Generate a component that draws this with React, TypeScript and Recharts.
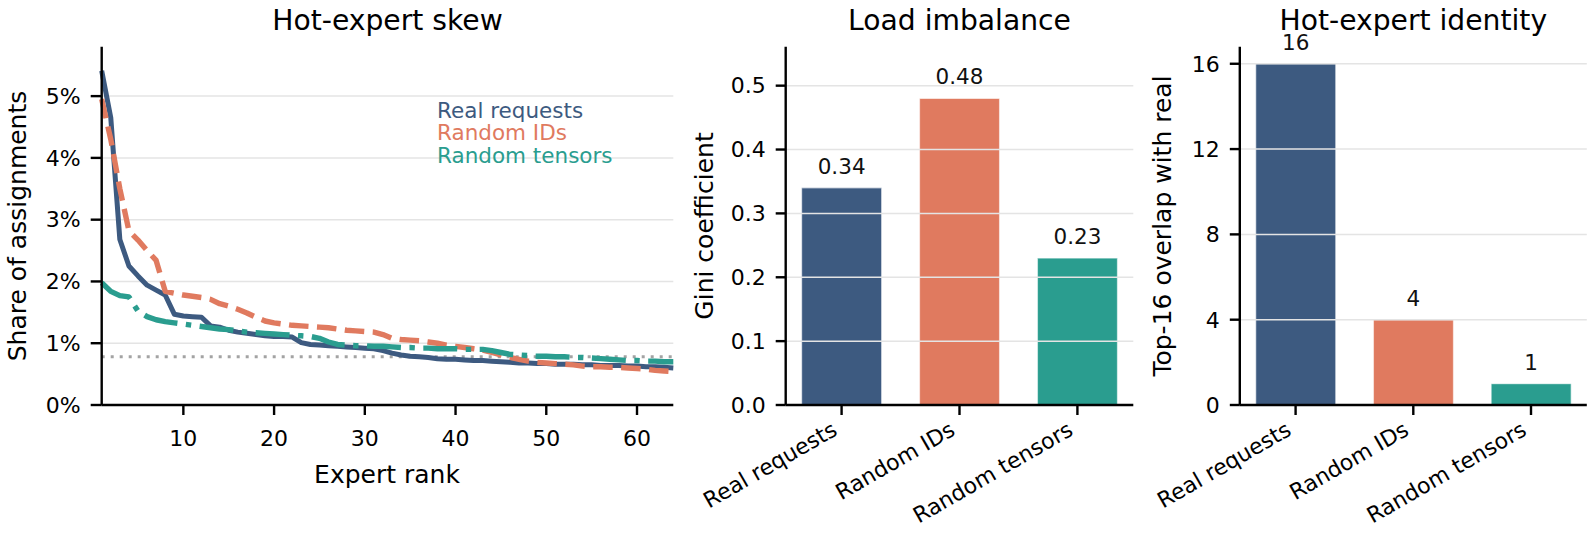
import React from 'react';
import {
  LineChart, Line, BarChart, Bar, Cell, XAxis, YAxis,
  ReferenceLine, LabelList, Legend,
} from 'recharts';

const BLUE = '#3d5a80';
const ORANGE = '#e07a5f';
const TEAL = '#2a9d8f';
const GRID = '#e4e4e4';
const FONT = '"DejaVu Sans", sans-serif';

// share of assignments (%) per expert rank 1..64
const realShare = [
  5.41, 4.65, 2.68, 2.25, 2.09, 1.94, 1.86, 1.78, 1.47, 1.44,
  1.43, 1.42, 1.28, 1.26, 1.21, 1.18, 1.16, 1.14, 1.12, 1.11,
  1.11, 1.10, 1.01, 0.98, 0.97, 0.96, 0.95, 0.94, 0.93, 0.92,
  0.91, 0.88, 0.84, 0.81, 0.79, 0.78, 0.77, 0.75, 0.74, 0.74,
  0.73, 0.72, 0.72, 0.71, 0.70, 0.69, 0.68, 0.68, 0.67, 0.67,
  0.66, 0.66, 0.66, 0.65, 0.65, 0.64, 0.64, 0.64, 0.63, 0.63,
  0.62, 0.62, 0.61, 0.60,
];
const randomIdShare = [
  4.95, 4.30, 3.50, 2.82, 2.67, 2.50, 2.34, 1.84, 1.81, 1.78,
  1.76, 1.74, 1.71, 1.64, 1.60, 1.55, 1.49, 1.42, 1.36, 1.33,
  1.31, 1.29, 1.28, 1.27, 1.26, 1.25, 1.23, 1.21, 1.20, 1.19,
  1.18, 1.14, 1.08, 1.06, 1.05, 1.04, 1.02, 1.00, 0.97, 0.95,
  0.93, 0.91, 0.89, 0.85, 0.81, 0.77, 0.74, 0.71, 0.69, 0.68,
  0.67, 0.66, 0.65, 0.63, 0.62, 0.62, 0.61, 0.61, 0.60, 0.59,
  0.58, 0.56, 0.55, 0.54,
];
const randomTensorShare = [
  1.98, 1.84, 1.77, 1.75, 1.52, 1.43, 1.38, 1.35, 1.33, 1.31,
  1.29, 1.27, 1.25, 1.23, 1.22, 1.20, 1.18, 1.17, 1.16, 1.15,
  1.14, 1.13, 1.12, 1.11, 1.08, 1.02, 0.98, 0.97, 0.96, 0.96,
  0.95, 0.95, 0.94, 0.93, 0.93, 0.92, 0.92, 0.91, 0.91, 0.91,
  0.90, 0.90, 0.90, 0.88, 0.85, 0.82, 0.81, 0.80, 0.79, 0.79,
  0.78, 0.78, 0.77, 0.77, 0.76, 0.75, 0.74, 0.73, 0.72, 0.72,
  0.71, 0.71, 0.70, 0.70,
];
const uniformShare = 0.78;
const shareTicks = [0, 1, 2, 3, 4, 5];
const rankTicks = [10, 20, 30, 40, 50, 60];

const sources = ['Real requests', 'Random IDs', 'Random tensors'];
const sourceColors = [BLUE, ORANGE, TEAL];
const giniValues = [0.34, 0.48, 0.23];
const giniTicks = [0, 0.1, 0.2, 0.3, 0.4, 0.5];
const overlapValues = [16, 4, 1];
const overlapTicks = [0, 4, 8, 12, 16];

const skewData = realShare.map((v, i) => ({
  rank: i + 1,
  real: v,
  ids: randomIdShare[i],
  tensors: randomTensorShare[i],
}));

const toBars = (values: number[]) =>
  sources.map((name, i) => ({ idx: i, name, value: values[i], color: sourceColors[i] }));
const giniData = toBars(giniValues);
const overlapData = toBars(overlapValues);

const axisLine = { stroke: '#000', strokeWidth: 2.4 };
const tickStyle = { fill: '#000', fontSize: 22 };

const CategoryTick = (props: any) => {
  const { x, y, payload } = props;
  const ax = x - 3;
  const ay = y + 19;
  return (
    <text x={ax} y={ay} textAnchor="end" transform={`rotate(-30, ${ax}, ${ay})`}
      fontSize={22} fill="#000">
      {sources[payload.value]}
    </text>
  );
};

const SkewLegend = () => (
  <div style={{ fontSize: 21.5, lineHeight: '22.6px', whiteSpace: 'nowrap' }}>
    {sources.map((s, i) => (
      <div key={s} style={{ color: sourceColors[i] }}>{s}</div>
    ))}
  </div>
);

const SkewChart = () => (
  <LineChart width={700} height={546} data={skewData}
    margin={{ top: 46.7, right: 26.7, bottom: 0, left: 0 }}>
    <XAxis dataKey="rank" type="number" domain={[1, 64]} ticks={rankTicks} height={141}
      tickSize={10} tickMargin={15} axisLine={axisLine} tickLine={axisLine} tick={tickStyle} />
    <YAxis type="number" domain={[0, 5.8]} ticks={shareTicks} width={101.7}
      tickFormatter={(v) => `${v}%`} tickSize={11} tickMargin={10}
      axisLine={axisLine} tickLine={axisLine} tick={tickStyle} />
    {shareTicks.slice(1).map((t) => (
      <ReferenceLine key={t} y={t} stroke={GRID} strokeWidth={1.5} />
    ))}
    <ReferenceLine y={uniformShare} stroke="#a3a3a3" strokeWidth={3} strokeDasharray="3 6" />
    <Line type="linear" dataKey="real" stroke={BLUE} strokeWidth={5} dot={false}
      activeDot={false} strokeLinejoin="round" isAnimationActive={false} />
    <Line type="linear" dataKey="ids" stroke={ORANGE} strokeWidth={5.4} strokeDasharray="19.5 8.5"
      dot={false} activeDot={false} strokeLinejoin="round" isAnimationActive={false} />
    <Line type="linear" dataKey="tensors" stroke={TEAL} strokeWidth={5.4}
      strokeDasharray="34 8.5 5.4 8.5" dot={false} activeDot={false} strokeLinejoin="round"
      isAnimationActive={false} />
    <Legend layout="vertical" align="center" verticalAlign="middle" content={<SkewLegend />}
      wrapperStyle={{ position: 'absolute', left: 437, top: 99.8, width: 'auto', height: 'auto' }} />
  </LineChart>
);

const SourceBars = ({ data, ticks, domain, width, yWidth, right, format }: any) => (
  <BarChart width={width} height={546} data={data}
    margin={{ top: 46.7, right, bottom: 0, left: 0 }}>
    <XAxis dataKey="idx" type="number" domain={[-0.474, 2.474]} ticks={[0, 1, 2]} height={141}
      interval={0} tickSize={10} tickMargin={0} axisLine={axisLine} tickLine={axisLine}
      tick={<CategoryTick />} />
    <YAxis type="number" domain={domain} ticks={ticks} width={yWidth} tickFormatter={format}
      tickSize={10} tickMargin={10} axisLine={axisLine} tickLine={axisLine} tick={tickStyle} />
    <Bar dataKey="value" barSize={80} stroke="#ffffff" strokeOpacity={0.55} strokeWidth={1.2}
      isAnimationActive={false}>
      {data.map((d: any) => <Cell key={d.name} fill={d.color} />)}
      <LabelList dataKey="value" position="top" offset={14}
        formatter={(v: any) => (domain[1] < 1 ? Number(v).toFixed(2) : String(v))}
        style={{ fontSize: 21.5, fill: '#111' }} />
    </Bar>
    {ticks.slice(1).map((t: number) => (
      <ReferenceLine key={t} y={t} stroke={GRID} strokeWidth={1.5} />
    ))}
  </BarChart>
);

export default function App() {
  return (
    <div style={{ position: 'absolute', left: 0, top: 0, width: 1594, height: 546,
      background: '#fff', fontFamily: FONT, overflow: 'hidden' }}>
      <div style={{ position: 'absolute', left: 0, top: 0 }}>
        <SkewChart />
      </div>
      <div style={{ position: 'absolute', left: 660, top: 0 }}>
        <SourceBars data={giniData} ticks={giniTicks} domain={[0, 0.561]} width={500}
          yWidth={125.7} right={26.7} format={(v: number) => v.toFixed(1)} />
      </div>
      <div style={{ position: 'absolute', left: 1120, top: 0 }}>
        <SourceBars data={overlapData} ticks={overlapTicks} domain={[0, 16.8]} width={474}
          yWidth={119.8} right={7.2} format={(v: number) => String(v)} />
      </div>
      <svg width={1594} height={546}
        style={{ position: 'absolute', left: 0, top: 0, pointerEvents: 'none' }}>
        <g fontFamily={FONT} fill="#000" textAnchor="middle">
          <text x={387.5} y={29.5} fontSize={28.2}>Hot-expert skew</text>
          <text x={959.5} y={29.5} fontSize={28.2}>Load imbalance</text>
          <text x={1413.3} y={29.5} fontSize={28.2}>Hot-expert identity</text>
          <text x={387} y={483.3} fontSize={25}>Expert rank</text>
          <text transform="translate(26, 226) rotate(-90)" fontSize={25}>Share of assignments</text>
          <text transform="translate(712.5, 226) rotate(-90)" fontSize={25}>Gini coefficient</text>
          <text transform="translate(1171, 226) rotate(-90)" fontSize={25}>Top-16 overlap with real</text>
        </g>
      </svg>
    </div>
  );
}
